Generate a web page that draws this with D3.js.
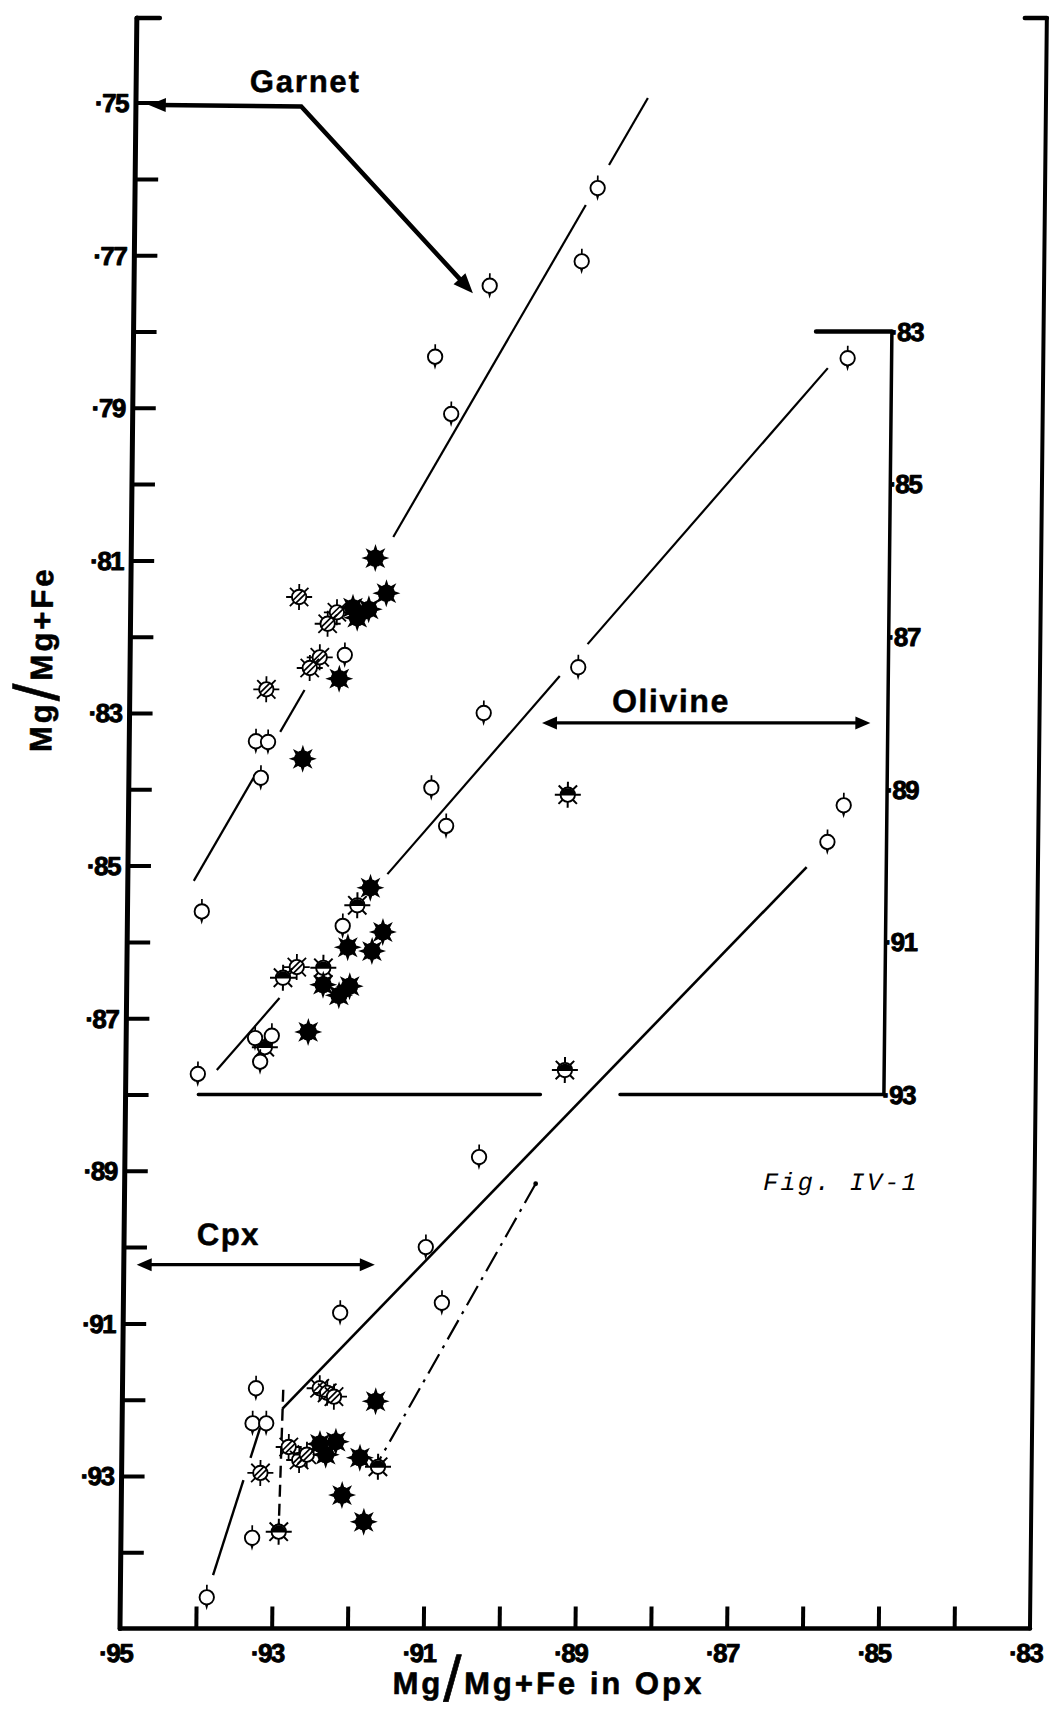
<!DOCTYPE html>
<html><head><meta charset="utf-8">
<script src="https://cdn.jsdelivr.net/npm/d3@7"></script>
<style>body{margin:0;background:#fff}</style>
</head><body><svg id="c" width="1056" height="1716"></svg>
<script>
// ---------------- data ----------------
const xTickValues = [0.94,0.93,0.92,0.91,0.90,0.89,0.88,0.87,0.86,0.85,0.84];
const xTickLabels = [0.95,0.93,0.91,0.89,0.87,0.85,0.83];
const yTickValues = [0.75,0.76,0.77,0.78,0.79,0.80,0.81,0.82,0.83,0.84,0.85,0.86,0.87,0.88,0.89,0.90,0.91,0.92,0.93,0.94];
const yTickLabels = [0.75,0.77,0.79,0.81,0.83,0.85,0.87,0.89,0.91,0.93];
const olivineTickLabels = [0.83,0.85,0.87,0.89,0.91,0.93];
const frameTop = 0.7389;

// [Mg# Opx, Mg# mineral, symbol]  O = open, H = hatched sun, F = filled sun, S = half-filled sun
const garnet = [
 [0.8890,0.7612,"O"],[0.8910,0.7708,"O"],[0.9031,0.7740,"O"],[0.9102,0.7833,"O"],[0.9080,0.7908,"O"],
 [0.9178,0.8097,"F"],[0.9163,0.8143,"F"],[0.9278,0.8148,"H"],[0.9228,0.8168,"H"],[0.9240,0.8183,"H"],
 [0.9207,0.8162,"F"],[0.9186,0.8164,"F"],[0.9201,0.8175,"F"],[0.9217,0.8224,"O"],[0.9250,0.8227,"H"],
 [0.9263,0.8241,"H"],[0.9224,0.8255,"F"],[0.9320,0.8269,"H"],[0.9333,0.8337,"O"],[0.9317,0.8338,"O"],
 [0.9271,0.8360,"F"],[0.9326,0.8385,"O"],[0.9402,0.8560,"O"]
];
// olivine values on the olivine (right) scale
const olivine = [
 [0.8558,0.8335,"O"],[0.8909,0.8740,"O"],[0.9033,0.8800,"O"],[0.9101,0.8898,"O"],[0.9081,0.8948,"O"],
 [0.8921,0.8907,"S"],[0.8921,0.9268,"S"],[0.9180,0.9029,"F"],[0.9197,0.9052,"S"],[0.9216,0.9079,"O"],
 [0.9163,0.9087,"F"],[0.9209,0.9107,"F"],[0.9177,0.9112,"F"],[0.9276,0.9133,"H"],[0.9294,0.9147,"S"],
 [0.9241,0.9134,"S"],[0.9241,0.9156,"F"],[0.9206,0.9158,"F"],[0.9220,0.9170,"F"],[0.9260,0.9218,"F"],
 [0.9317,0.9238,"S"],[0.9330,0.9226,"O"],[0.9308,0.9223,"O"],[0.9323,0.9257,"O"],[0.9405,0.9273,"O"]
];
const cpx = [
 [0.8557,0.8421,"O"],[0.8578,0.8469,"O"],[0.9033,0.8882,"O"],[0.9102,0.9000,"O"],[0.9080,0.9073,"O"],
 [0.9214,0.9086,"O"],[0.9324,0.9185,"O"],[0.9328,0.9231,"O"],[0.9310,0.9231,"O"],[0.9240,0.9185,"H"],
 [0.9230,0.9191,"H"],[0.9221,0.9196,"H"],[0.9166,0.9202,"F"],[0.9280,0.9262,"H"],[0.9266,0.9279,"H"],
 [0.9256,0.9272,"H"],[0.9239,0.9258,"F"],[0.9218,0.9255,"F"],[0.9231,0.9272,"F"],[0.9186,0.9276,"F"],
 [0.9162,0.9288,"S"],[0.9317,0.9296,"H"],[0.9209,0.9325,"F"],[0.9180,0.9360,"F"],[0.9292,0.9373,"S"],
 [0.9327,0.9381,"O"],[0.9386,0.9459,"O"]
];

// fitted lines: endpoints and visible stretches (fractions along the line)
const garnetFit = [[0.8825,0.7494],[0.9413,0.8520]];
const garnetFitPieces = [[0,0.0856],[0.1367,0.5607],[0.7561,0.8097],[0.8685,1]];
const olivineFit = [[0.8584,0.8348],[0.9380,0.9268]];
const olivineFitPieces = [[0,0.3932],[0.4387,0.7208],[0.8974,1]];
const cpxFit = [[0.8605,0.8502],[0.9289,0.9212]];
const cpxLow = [[0.9318,0.9237],[0.9378,0.9430]];
const cpxLowPieces = [[0,0.204],[0.354,1]];
const cpxDashed = [[0.9288,0.9187],[0.9292,0.9364]];
const cpxDashDot = [[0.8958,0.8917],[0.9162,0.9282]];
const olivineBasePieces = [[0.9404,0.8953],[0.8848,0.85]];

// annotations
const garnetArrow = [[0.9483,0.7503],[0.9282,0.7505],[0.9053,0.7750]];
const olivineArrow = [[0.8956,0.8813],[0.8523,0.8813]];
const cpxArrow = [[0.9483,0.9023],[0.9169,0.9023]];
const labelGarnet = [0.9350,0.7486];
const labelOlivine = [0.8864,0.8799];
const labelCpx = [0.9404,0.8997];
const labelFig = [0.8658,0.8925];

// ---------------- drawing ----------------
const FB = "'Liberation Sans', Arial, Helvetica, sans-serif";
const svg = d3.select("#c");
svg.append("rect").attr("width",1056).attr("height",1716).attr("fill","#fff");
const g = svg.append("g").attr("transform","translate(0,1627) skewX(-0.6) translate(0,-1627)");

const x = d3.scaleLinear().domain([0.95,0.83]).range([120,1030]);
const y = d3.scaleLinear().domain([0.95,0.75]).range([1628.6,102.6]);
const yOl = d3.scaleLinear().domain([1.00,0.80]).range([1628.6,102.6]);
const fmt = d => "\u00B7" + Math.round(d*100);

function seg(sel, x1,y1,x2,y2,w){
  return sel.append("line").attr("x1",x1).attr("y1",y1).attr("x2",x2).attr("y2",y2)
    .attr("stroke","#000").attr("stroke-width",w).attr("stroke-linecap","round");
}
function heavy(sel, w){ return sel.attr("stroke","#000").attr("stroke-width",w).attr("stroke-linejoin","round"); }

// frame
const frame = g.append("g");
seg(frame, x(0.95), y(0.95), x(0.83), y(0.95), 4.5);
seg(frame, x(0.95), y(0.95), x(0.95), y(frameTop), 5);
seg(frame, x(0.95), y(frameTop), x(0.95)+23, y(frameTop), 4.5);
seg(frame, x(0.83), y(0.95), x(0.83), y(frameTop), 4);
seg(frame, x(0.83), y(frameTop), x(0.83)-22, y(frameTop), 4.5);

// left axis ticks
const ya = g.append("g").attr("transform",`translate(${x(0.95)},0)`)
  .call(d3.axisRight(y).tickValues(yTickValues).tickSize(23).tickFormat(""));
ya.select(".domain").remove();
ya.selectAll("line").attr("stroke","#000").attr("stroke-width",4);
// bottom axis ticks
const xa = g.append("g").attr("transform",`translate(0,${y(0.95)})`)
  .call(d3.axisTop(x).tickValues(xTickValues).tickSize(22).tickFormat(""));
xa.select(".domain").remove();
xa.selectAll("line").attr("stroke","#000").attr("stroke-width",4);

heavy(g.selectAll(".yl").data(yTickLabels).join("text").attr("class","yl")
  .attr("x", x(0.95)-8).attr("y", d=>y(d)).attr("dy","0.36em")
  .attr("text-anchor","end").attr("font-family",FB).attr("font-weight","bold")
  .attr("font-size",26).attr("letter-spacing",-1.5).text(fmt), 0.9);
heavy(g.selectAll(".xl").data(xTickLabels).join("text").attr("class","xl")
  .attr("x", d=>x(d)-4).attr("y", 1662)
  .attr("text-anchor","middle").attr("font-family",FB).attr("font-weight","bold")
  .attr("font-size",26).attr("letter-spacing",-1.5).text(fmt), 0.9);

// olivine scale bracket
seg(g, x(0.85), yOl(0.83), x(0.85), yOl(0.93), 3.5);
seg(g, x(0.86), yOl(0.83), x(0.85), yOl(0.83), 4.5);
olivineBasePieces.forEach(p => seg(g, x(p[0]), yOl(0.93), x(p[1]), yOl(0.93), 3.5));
heavy(g.selectAll(".ol").data(olivineTickLabels).join("text").attr("class","ol")
  .attr("x", x(0.85)-2).attr("y", d=>yOl(d)).attr("dy","0.36em")
  .attr("text-anchor","start").attr("font-family",FB).attr("font-weight","bold")
  .attr("font-size",26).attr("letter-spacing",-1.5).text(fmt), 0.9);

// fitted lines
function pieces(pts, ps, ys, w){
  const [a,b] = pts;
  ps.forEach(([t0,t1]) => {
    const p = t => [a[0]+(b[0]-a[0])*t, a[1]+(b[1]-a[1])*t];
    const u = p(t0), v = p(t1);
    seg(g, x(u[0]), ys(u[1]), x(v[0]), ys(v[1]), w).attr("stroke-linecap","butt");
  });
}
pieces(garnetFit, garnetFitPieces, y, 2.2);
pieces(olivineFit, olivineFitPieces, yOl, 2.2);
pieces(cpxFit, [[0,1]], y, 2.6);
pieces(cpxLow, cpxLowPieces, y, 2.4);
seg(g, x(cpxDashed[0][0]), y(cpxDashed[0][1]), x(cpxDashed[1][0]), y(cpxDashed[1][1]), 2.4)
  .attr("stroke-linecap","butt").attr("stroke-dasharray","12,7");
seg(g, x(cpxDashDot[0][0]), y(cpxDashDot[0][1]), x(cpxDashDot[1][0]), y(cpxDashDot[1][1]), 2.2)
  .attr("stroke-linecap","butt").attr("stroke-dasharray","22,7,3,7");
g.append("circle").attr("cx",x(cpxDashDot[0][0])).attr("cy",y(cpxDashDot[0][1])).attr("r",2.4).attr("fill","#000");

// markers
function spikeLines(s, r0, r1, w){
  for(let k=0;k<8;k++){
    const a = k*Math.PI/4;
    s.append("line").attr("x1",Math.cos(a)*r0).attr("y1",Math.sin(a)*r0)
      .attr("x2",Math.cos(a)*r1).attr("y2",Math.sin(a)*r1)
      .attr("stroke","#000").attr("stroke-width",w);
  }
}
function marker(s, t){
  if(t==="O"){
    s.append("line").attr("x1",0).attr("x2",0).attr("y1",-12.5).attr("y2",6)
      .attr("stroke","#000").attr("stroke-width",1.7);
    s.append("path").attr("d","M-2,6 L2,6 L0,13 Z").attr("fill","#000");
    s.append("circle").attr("r",7.2).attr("fill","#fff").attr("stroke","#000").attr("stroke-width",1.9);
  } else if(t==="H"){
    spikeLines(s, 6.5, 13, 1.8);
    s.append("circle").attr("r",7.2).attr("fill","#fff").attr("stroke","#000").attr("stroke-width",1.9);
    [-2,2].forEach(d => {
      const L = Math.sqrt(7.2*7.2 - d*d);
      const ux = Math.SQRT1_2, uy = -Math.SQRT1_2, nx = Math.SQRT1_2, ny = Math.SQRT1_2;
      s.append("line").attr("x1",nx*d-ux*L).attr("y1",ny*d-uy*L)
        .attr("x2",nx*d+ux*L).attr("y2",ny*d+uy*L)
        .attr("stroke","#000").attr("stroke-width",1.7);
    });
  } else if(t==="F"){
    let dpath = "";
    for(let k=0;k<8;k++){
      const a = k*Math.PI/4, c=Math.cos(a), sn=Math.sin(a);
      const bx = c*6, by = sn*6, px=-sn*2.6, py=c*2.6;
      dpath += `M${bx+px},${by+py}L${c*14},${sn*14}L${bx-px},${by-py}Z`;
    }
    s.append("path").attr("d",dpath).attr("fill","#000");
    s.append("circle").attr("r",8.6).attr("fill","#000");
  } else if(t==="S"){
    spikeLines(s, 6.5, 13, 2);
    s.append("circle").attr("r",7.2).attr("fill","#fff").attr("stroke","#000").attr("stroke-width",1.9);
    s.append("path").attr("d","M-7.2,0.8 A7.2,7.2 0 0 1 7.2,0.8 Z").attr("fill","#000");
  }
}
function drawSeries(data, ys){
  g.append("g").selectAll("g").data(data).join("g")
    .attr("transform", d => `translate(${x(d[0])},${ys(d[1])})`)
    .each(function(d){ marker(d3.select(this), d[2]); });
}
drawSeries(garnet, y);
drawSeries(olivine, yOl);
drawSeries(cpx, y);

// arrows
function head(tip, from, len, hw){
  const dx = tip[0]-from[0], dy = tip[1]-from[1], L = Math.hypot(dx,dy);
  const ux = dx/L, uy = dy/L, bx = tip[0]-ux*len, by = tip[1]-uy*len;
  g.append("path").attr("d",`M${tip[0]},${tip[1]}L${bx-uy*hw},${by+ux*hw}L${bx+uy*hw},${by-ux*hw}Z`).attr("fill","#000");
}
{
  const P = garnetArrow.map(p => [x(p[0]), y(p[1])]);
  g.append("path").attr("d", d3.line()([ [P[0][0]+10,P[0][1]], P[1], [P[2][0]-(P[2][0]-P[1][0])*0.06, P[2][1]-(P[2][1]-P[1][1])*0.06] ]))
    .attr("fill","none").attr("stroke","#000").attr("stroke-width",4.5).attr("stroke-linejoin","miter");
  head(P[0], P[1], 17, 7);
  head(P[2], P[1], 20, 8);
}
function dbl(arr, ys){
  const a = [x(arr[0][0]), ys(arr[0][1])], b = [x(arr[1][0]), ys(arr[1][1])];
  seg(g, a[0]+8, a[1], b[0]-8, b[1], 3.4).attr("stroke-linecap","butt");
  head(a, b, 15, 6.5);
  head(b, a, 15, 6.5);
}
dbl(olivineArrow, yOl);
dbl(cpxArrow, y);

// labels
function label(pos, ys, txt, size, ls){
  return g.append("text").attr("x",x(pos[0])).attr("y",ys(pos[1]))
    .attr("font-family",FB).attr("font-weight","bold").attr("font-size",size)
    .attr("letter-spacing",ls).text(txt);
}
heavy(label(labelGarnet, y, "Garnet", 31, 1.8), 0.5);
heavy(label(labelOlivine, yOl, "Olivine", 32, 1.6), 0.5);
heavy(label(labelCpx, y, "Cpx", 31, 1.5), 0.5);
g.append("text").attr("x",x(labelFig[0])).attr("y",y(labelFig[1]))
  .attr("font-family","'Liberation Mono', 'DejaVu Sans Mono', monospace").attr("font-style","italic")
  .attr("font-size",25).attr("letter-spacing",2.3).text("Fig. IV-1");

// axis titles
const xt = heavy(g.append("text").attr("x",549).attr("y",1694).attr("text-anchor","middle")
  .attr("font-family",FB).attr("font-weight","bold").attr("font-size",31).attr("letter-spacing",3), 0.6);
xt.append("tspan").text("Mg");
xt.append("tspan").attr("font-size",64).attr("font-weight","normal").attr("dy",7).text("/");
xt.append("tspan").attr("dy",-7).text("Mg+Fe in Opx");

const yt = heavy(g.append("text").attr("transform","translate(42,752) rotate(-90)").attr("text-anchor","start")
  .attr("font-family",FB).attr("font-weight","bold").attr("font-size",31).attr("letter-spacing",3), 0.6);
yt.append("tspan").text("Mg");
yt.append("tspan").attr("font-size",64).attr("font-weight","normal").attr("dy",7).text("/");
yt.append("tspan").attr("dy",-7).text("Mg+Fe");
</script>
</body></html>
